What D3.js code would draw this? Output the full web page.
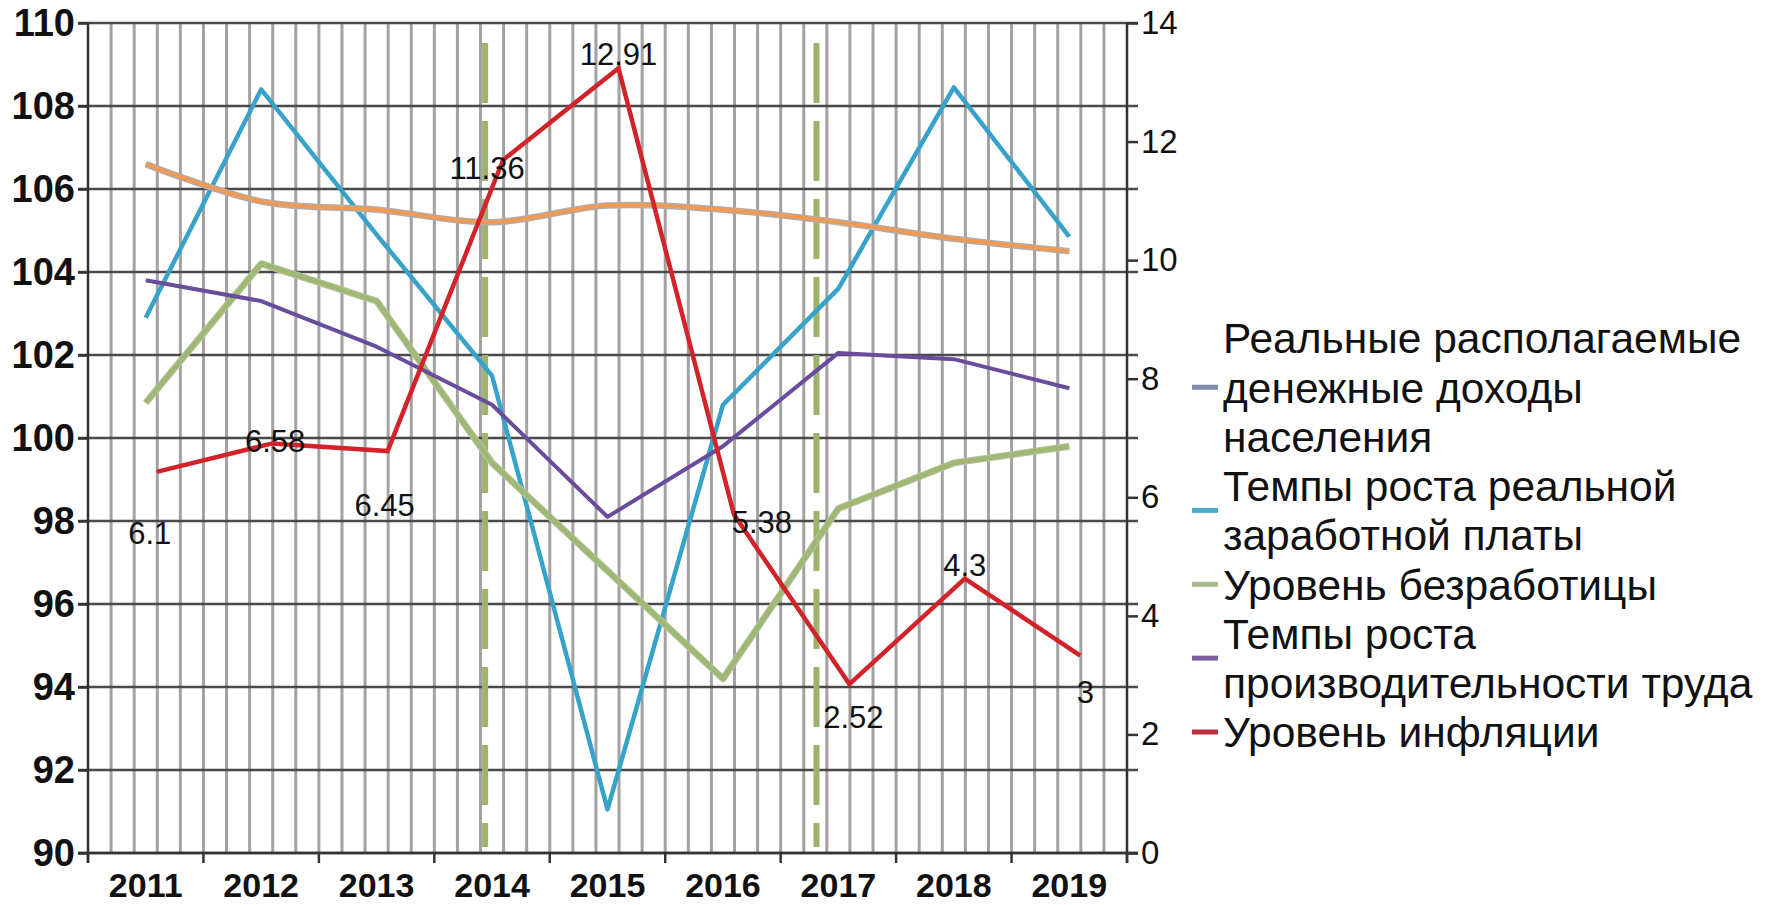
<!DOCTYPE html>
<html>
<head>
<meta charset="utf-8">
<script src="https://cdn.jsdelivr.net/npm/d3@7"></script>
<style>
  body { margin: 0; background: #fff; }
  text { font-family: "Liberation Sans", Arial, sans-serif; }
</style>
</head>
<body>
<div id="chart"></div>
<script>
const years = ["2011", "2012", "2013", "2014", "2015", "2016", "2017", "2018", "2019"];

// left axis series (index, %)
const incomes      = [106.6, 105.7, 105.5, 105.2, 105.6, 105.5, 105.2, 104.8, 104.5];
const wages        = [102.9, 108.4, 104.9, 101.5, 91.05, 100.8, 103.6, 108.45, 104.85];
const unemployment = [100.85, 104.2, 103.3, 99.4, 96.8, 94.2, 98.3, 99.4, 99.8];
const productivity = [103.8, 103.3, 102.2, 100.8, 98.1, 99.8, 102.05, 101.9, 101.2];
// right axis series
const inflation    = [6.1, 6.58, 6.45, 11.36, 12.91, 5.38, 2.52, 4.3, 3];
const inflationLabelPos = ["below", "on", "below2", "aboveLeft", "above", "right", "belowRight", "above", "below3"];

const leftTicks  = [90, 92, 94, 96, 98, 100, 102, 104, 106, 108, 110];
const rightTicks = [0, 2, 4, 6, 8, 10, 12, 14];
const dividers   = [2013.94, 2016.81];   // dashed green markers (year position)

const legendNames = [
  ["Реальные располагаемые", "денежные доходы", "населения"],
  ["Темпы роста реальной", "заработной платы"],
  ["Уровень безработицы"],
  ["Темпы роста", "производительности труда"],
  ["Уровень инфляции"]
];
const legendColors = ["#7d8ca8", "#4bacc6", "#a9b98a", "#7b5fa0", "#b8303c"];

const W = 1777, H = 905;
const m = { left: 88, right: 1127, top: 23, bottom: 853 };

const svg = d3.select("#chart").append("svg")
  .attr("width", W).attr("height", H)
  .style("background", "#fff");

const x = d3.scaleBand().domain(years).range([m.left, m.right]);
const xYear = d3.scaleLinear().domain([2010.5, 2019.5]).range([m.left, m.right]);
const yL = d3.scaleLinear().domain([90, 110]).range([m.bottom, m.top]);
const yR = d3.scaleLinear().domain([0, 14]).range([m.bottom, m.top]);
const cx = (d, i) => x(years[i]) + x.bandwidth() / 2;

// vertical minor gridlines, 5 per year
const minor = d3.range(1, 45).map(k => 2010.5 + k * 0.2);
svg.append("g").selectAll("line").data(minor).join("line")
  .attr("x1", d => xYear(d)).attr("x2", d => xYear(d))
  .attr("y1", m.top).attr("y2", m.bottom)
  .attr("stroke", "#a2a2a2").attr("stroke-width", 3);

// horizontal gridlines
svg.append("g").selectAll("line").data(leftTicks).join("line")
  .attr("x1", m.left - 10).attr("x2", m.right + 11)
  .attr("y1", d => yL(d)).attr("y2", d => yL(d))
  .attr("stroke", "#4a4a4a").attr("stroke-width", 2.5);

// axes
const axL = svg.append("g").attr("transform", `translate(${m.left},0)`)
  .call(d3.axisLeft(yL).tickValues(leftTicks).tickSize(10).tickPadding(3));
axL.selectAll("text").style("font-size", "38px").style("font-weight", "bold").attr("fill", "#111");

const axR = svg.append("g").attr("transform", `translate(${m.right},0)`)
  .call(d3.axisRight(yR).tickValues(rightTicks).tickSize(11).tickPadding(3));
axR.selectAll("text").style("font-size", "33px").attr("fill", "#111");

const axB = svg.append("g").attr("transform", `translate(0,${m.bottom})`)
  .call(d3.axisBottom(x).tickSize(0).tickPadding(20));
axB.selectAll("text").style("font-size", "34px").style("font-weight", "bold").attr("fill", "#111");

// year boundary ticks under the x axis
svg.append("g").selectAll("line").data(d3.range(2010.5, 2020, 1)).join("line")
  .attr("x1", d => xYear(d)).attr("x2", d => xYear(d))
  .attr("y1", m.bottom).attr("y2", m.bottom + 10)
  .attr("stroke", "#333").attr("stroke-width", 2.5);

[axL, axR, axB].forEach(a => {
  a.select(".domain").attr("stroke", "#333").attr("stroke-width", 2.5);
  a.selectAll(".tick line").attr("stroke", "#333").attr("stroke-width", 2.5);
});
axL.select(".domain").attr("d", `M0,${m.top}V${m.bottom + 10}`);
axR.select(".domain").attr("d", `M0,${m.top}V${m.bottom + 10}`);
axB.select(".domain").attr("d", `M${m.left - 10},0H${m.right + 11}`);

// dashed green markers
svg.append("g").selectAll("line").data(dividers).join("line")
  .attr("x1", d => xYear(d)).attr("x2", d => xYear(d))
  .attr("y1", 43).attr("y2", m.bottom - 6)
  .attr("stroke", "#9db36a").attr("stroke-width", 6)
  .attr("stroke-dasharray", "60,18");

const lineL = d3.line().x(cx).y(d => yL(d));

// series on the left axis
const series = [
  { data: wages, color: "#37a2ca", w: 4.5 },
  { data: unemployment, color: "#9fb874", w: 5, edge: "#b9c4a2" },
  { data: productivity, color: "#694c9b", w: 4 }
];
series.forEach(s => {
  if (s.edge) {
    svg.append("path").attr("d", lineL(s.data)).attr("fill", "none")
      .attr("stroke", s.edge).attr("stroke-width", s.w + 2).attr("stroke-linejoin", "round");
  }
  svg.append("path").attr("d", lineL(s.data)).attr("fill", "none")
    .attr("stroke", s.color).attr("stroke-width", s.w).attr("stroke-linejoin", "round");
});

// incomes line: orange with a grey rim, smoothed
const lineSmooth = d3.line().x(cx).y(d => yL(d)).curve(d3.curveCatmullRom.alpha(0.5));
svg.append("path").attr("d", lineSmooth(incomes)).attr("fill", "none")
  .attr("stroke", "#b8aaa0").attr("stroke-width", 6.5);
svg.append("path").attr("d", lineSmooth(incomes)).attr("fill", "none")
  .attr("stroke", "#f39a52").attr("stroke-width", 3.5);

// inflation, on the right axis; this layer sits slightly off in the source picture
const infl = svg.append("g").attr("transform", "translate(11,-19.5)");
const lineR = d3.line().x(cx).y(d => yR(d));
infl.append("path").attr("d", lineR(inflation)).attr("fill", "none")
  .attr("stroke", "#d2232a").attr("stroke-width", 4.5);

const labelShift = {
  below:      [-7, 61],
  below2:     [-3, 54],
  below3:     [5, 36],
  on:         [3, -3],
  aboveLeft:  [-16, 8],
  above:      [0, -14],
  right:      [28, 7],
  belowRight: [4, 33]
};
infl.append("g").selectAll("text").data(inflation).join("text")
  .attr("x", (d, i) => cx(d, i) + labelShift[inflationLabelPos[i]][0])
  .attr("y", (d, i) => yR(d) + labelShift[inflationLabelPos[i]][1])
  .attr("dy", "0.36em")
  .attr("text-anchor", "middle")
  .style("font-size", "31px")
  .attr("fill", "#111")
  .text(d => d);

// legend
const lg = svg.append("g");
const rowH = 49.25;
let row = 0;
legendNames.forEach((lines, k) => {
  const first = row;
  lines.forEach(t => {
    lg.append("text")
      .attr("x", 1223).attr("y", 338 + row * rowH)
      .attr("dy", "0.36em")
      .style("font-size", "42.5px")
      .attr("fill", "#111")
      .text(t);
    row++;
  });
  const mid = 338 + ((first + row - 1) / 2) * rowH;
  lg.append("line")
    .attr("x1", 1192).attr("x2", 1218)
    .attr("y1", mid).attr("y2", mid)
    .attr("stroke", legendColors[k]).attr("stroke-width", 5);
});
</script>
</body>
</html>
